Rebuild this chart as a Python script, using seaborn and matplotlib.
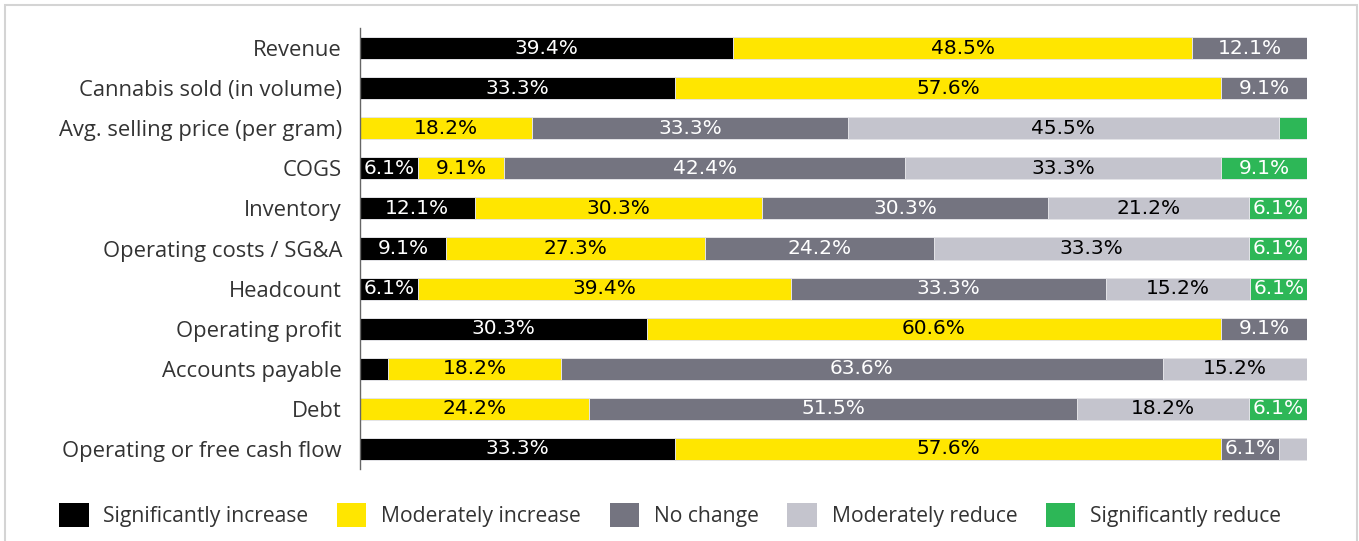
import matplotlib
matplotlib.use("Agg")
import matplotlib.pyplot as plt
from matplotlib.patches import Rectangle, Patch
import numpy as np
import pandas as pd
import seaborn as sns

categories = [
    "Revenue",
    "Cannabis sold (in volume)",
    "Avg. selling price (per gram)",
    "COGS",
    "Inventory",
    "Operating costs / SG&A",
    "Headcount",
    "Operating profit",
    "Accounts payable",
    "Debt",
    "Operating or free cash flow",
]
series_names = [
    "Significantly increase",
    "Moderately increase",
    "No change",
    "Moderately reduce",
    "Significantly reduce",
]
sig_increase = [39.4, 33.3, 0.0, 6.1, 12.1, 9.1, 6.1, 30.3, 3.0, 0.0, 33.3]
mod_increase = [48.5, 57.6, 18.2, 9.1, 30.3, 27.3, 39.4, 60.6, 18.2, 24.2, 57.6]
no_change = [12.1, 9.1, 33.3, 42.4, 30.3, 24.2, 33.3, 9.1, 63.6, 51.5, 6.1]
mod_reduce = [0.0, 0.0, 45.5, 33.3, 21.2, 33.3, 15.2, 0.0, 15.2, 18.2, 3.0]
sig_reduce = [0.0, 0.0, 3.0, 9.1, 6.1, 6.1, 6.1, 0.0, 0.0, 6.1, 0.0]

colors = ["#000000", "#FFE600", "#747480", "#C4C4CD", "#2DB757"]
text_colors = ["white", "black", "white", "black", "white"]

values = np.array([sig_increase, mod_increase, no_change, mod_reduce, sig_reduce])
cum = np.cumsum(values, axis=0)

df = pd.DataFrame({"category": categories})
for i, name in enumerate(series_names):
    df[name] = cum[i]

W, H = 1359, 541
fig = plt.figure(figsize=(W / 100, H / 100), dpi=100)
ax = fig.add_axes([360 / W, 1 - 469 / H, (1307 - 360) / W, (469 - 28) / H])

# draw stacked bars as overlaid cumulative totals, widest first
for i in reversed(range(len(series_names))):
    sns.barplot(data=df, x=series_names[i], y="category", color=colors[i],
                orient="h", width=0.55, ax=ax, saturation=1,
                edgecolor="#e4e4e8", linewidth=0.7)

# segment value labels
for i in range(len(series_names)):
    for j, cat in enumerate(categories):
        v = values[i, j]
        if v >= 6:
            start = cum[i, j] - v
            ax.text(start + v / 2, j, f"{v:.1f}%", ha="center", va="center",
                    color=text_colors[i], fontsize=14.5, family="DejaVu Sans")

ax.set_xlim(0, 100)
ax.set_ylim(len(categories) - 0.5, -0.5)
ax.set_xlabel("")
ax.set_ylabel("")
ax.set_xticks([])
ax.tick_params(axis="y", length=0, pad=13)
for lbl in ax.get_yticklabels():
    lbl.set_fontsize(15.8)
    lbl.set_color("#333333")
    lbl.set_family("Open Sans")
for s in ["top", "right", "bottom"]:
    ax.spines[s].set_visible(False)
ax.spines["left"].set_color("#666666")
ax.spines["left"].set_linewidth(1.0)

handles = [Patch(facecolor=c, edgecolor="none") for c in colors]
fig.legend(handles, series_names, loc="center", ncol=5,
           bbox_to_anchor=(0.493, 1 - 515 / H), frameon=False,
           prop={"family": "Open Sans", "size": 15.2}, labelcolor="#333333",
           handlelength=1.4, handleheight=1.4, handletextpad=0.7,
           columnspacing=1.35)

# light frame around the figure
fig.patches.append(Rectangle((5 / W, -0.05), (1357 - 5) / W, 1.05 - 5 / H,
                             transform=fig.transFigure, fill=False,
                             edgecolor="#d4d4d4", linewidth=1.5))

fig.savefig("out.png", dpi=100, facecolor="white")
